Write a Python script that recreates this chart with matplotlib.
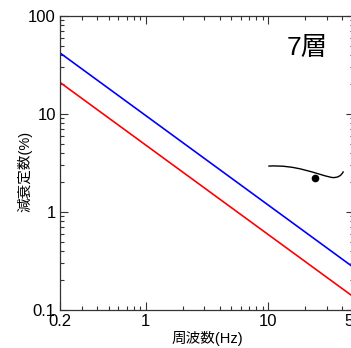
import matplotlib
matplotlib.use("Agg")
import matplotlib.pyplot as plt
from matplotlib.path import Path
from matplotlib.patches import PathPatch
from matplotlib.ticker import FixedLocator, LogLocator, NullFormatter, FixedFormatter

plt.rcParams['font.family'] = ['Liberation Sans', 'Noto Sans CJK JP', 'DejaVu Sans']

# data
freq = [0.2, 50]
blue_vals = [42, 0.27]
red_vals = [21, 0.135]
xticks = [0.2, 1, 10, 50]
xticklabels = ['0.2', '1', '10', '50']
yticks = [0.1, 1, 10, 100]
yticklabels = ['0.1', '1', '10', '100']
title_text = '7層'
xlabel = '周波数(Hz)'
ylabel = '減衰定数(%)'
# hand-drawn squiggle annotation (Bezier control points, data coords)
squig_x = [10, 17, 24, 33, 37, 39.5, 41]
squig_y = [2.94, 3.05, 2.45, 2.25, 2.22, 2.35, 2.6]
dot_x = [24]
dot_y = [2.2]

fig = plt.figure(figsize=(3.51, 3.48), dpi=100)
ax = fig.add_axes([60/351, 38/348, 294/351, 294/348])
ax.set_xscale('log')
ax.set_yscale('log')
ax.plot(freq, blue_vals, color='#0000ff', lw=1.2)
ax.plot(freq, red_vals, color='#ff0000', lw=1.2)
codes = [Path.MOVETO, Path.CURVE4, Path.CURVE4, Path.CURVE4, Path.CURVE4, Path.CURVE4, Path.CURVE4]
squig = Path(list(zip(squig_x, squig_y)), codes)
ax.add_patch(PathPatch(squig, facecolor='none', edgecolor='black', lw=1.0))
ax.plot(dot_x, dot_y, 'o', color='black', ms=4.5)
ax.set_xlim(0.2, 50)
ax.set_ylim(0.1, 100)

ax.xaxis.set_major_locator(FixedLocator(xticks))
ax.xaxis.set_major_formatter(FixedFormatter(xticklabels))
ax.xaxis.set_minor_locator(LogLocator(base=10, subs=range(2, 10), numticks=20))
ax.xaxis.set_minor_formatter(NullFormatter())
ax.yaxis.set_major_locator(FixedLocator(yticks))
ax.yaxis.set_major_formatter(FixedFormatter(yticklabels))
ax.yaxis.set_minor_locator(LogLocator(base=10, subs=range(2, 10), numticks=20))
ax.yaxis.set_minor_formatter(NullFormatter())

ax.tick_params(which='both', direction='in', top=True, right=True, width=0.8, color='#333333')
ax.tick_params(which='major', length=6, labelsize=12, pad=3)
ax.tick_params(which='minor', length=3)
for s in ax.spines.values():
    s.set_linewidth(0.9)
    s.set_color('#333333')

ax.text(0.84, 0.89, title_text, transform=ax.transAxes, fontsize=19, ha='center', va='center')
ax.set_xlabel(xlabel, fontsize=10.5, labelpad=1)
ax.set_ylabel(ylabel, fontsize=10.5)
ax.yaxis.set_label_coords(-0.095, 0.47)

fig.savefig('out.png', dpi=100)
